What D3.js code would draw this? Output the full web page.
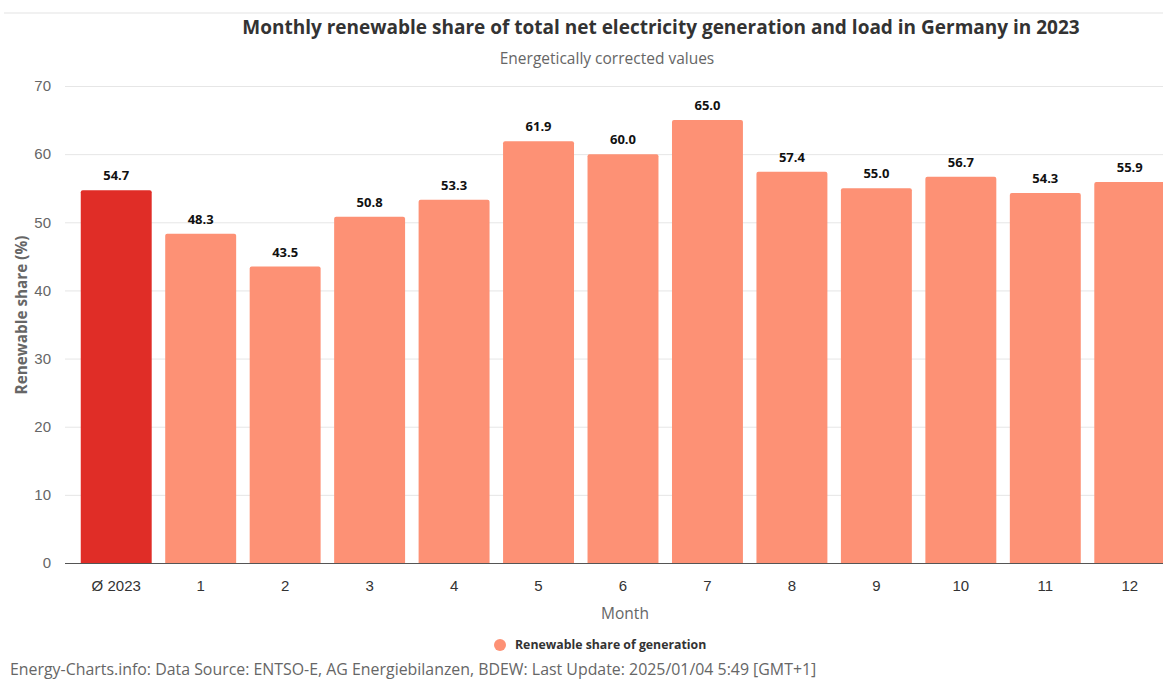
<!DOCTYPE html>
<html>
<head>
<meta charset="utf-8">
<script src="https://cdn.jsdelivr.net/npm/d3@7"></script>
<style>
  html, body { margin: 0; padding: 0; background: #fff; overflow: hidden; }
  svg { display: block; font-family: "Open Sans", "DejaVu Sans", sans-serif; }
</style>
</head>
<body>
<svg id="chart" width="1163" height="680"></svg>
<script>
// Monthly renewable share of net electricity generation, Germany 2023
const categories = ["Ø 2023", "1", "2", "3", "4", "5", "6", "7", "8", "9", "10", "11", "12"];
const shareValues = [54.7, 48.3, 43.5, 50.8, 53.3, 61.9, 60.0, 65.0, 57.4, 55.0, 56.7, 54.3, 55.9];
const yTicks = [0, 10, 20, 30, 40, 50, 60, 70];

const titleText = "Monthly renewable share of total net electricity generation and load in Germany in 2023";
const subtitleText = "Energetically corrected values";
const yAxisTitle = "Renewable share (%)";
const xAxisTitle = "Month";
const legendText = "Renewable share of generation";
const footerText = "Energy-Charts.info: Data Source: ENTSO-E, AG Energiebilanzen, BDEW: Last Update: 2025/01/04 5:49 [GMT+1]";

const svg = d3.select("#chart");

const plot = { left: 65, right: 1200, top: 86, bottom: 563 };

const x = d3.scaleBand()
  .domain(categories)
  .range([74, 1172])
  .paddingInner(0.16)
  .paddingOuter(0.08);

const y = d3.scaleLinear()
  .domain([0, 70])
  .range([plot.bottom, plot.top]);

// faint top border
svg.append("rect")
  .attr("x", 4).attr("y", 12).attr("width", 1159).attr("height", 2)
  .attr("fill", "#f1f1f1");

// gridlines
const yAxis = d3.axisLeft(y).tickValues(yTicks).tickSize(-(plot.right - plot.left)).tickPadding(14);
const gy = svg.append("g")
  .attr("transform", `translate(${plot.left},0)`)
  .call(yAxis);
gy.select(".domain").remove();
gy.selectAll(".tick line").attr("stroke", "#e6e6e6").attr("stroke-width", 1);
gy.selectAll(".tick text")
  .attr("fill", "#666")
  .attr("font-size", 15)
  .attr("dy", "0.32em");

// bars
svg.append("g").selectAll("path")
  .data(categories.map((c, i) => ({ c, v: shareValues[i], i })))
  .join("path")
  .attr("fill", d => d.i === 0 ? "#e02d27" : "#fd9175")
  .attr("d", d => {
    const x0 = x(d.c), w = x.bandwidth(), y0 = y(d.v), yb = y(0), r = 2;
    return `M${x0},${yb} V${y0 + r} Q${x0},${y0} ${x0 + r},${y0} H${x0 + w - r} Q${x0 + w},${y0} ${x0 + w},${y0 + r} V${yb} Z`;
  });

// value labels
svg.append("g").selectAll("text")
  .data(categories.map((c, i) => ({ c, v: shareValues[i] })))
  .join("text")
  .attr("x", d => x(d.c) + x.bandwidth() / 2)
  .attr("y", d => y(d.v) - 10)
  .attr("text-anchor", "middle")
  .attr("font-size", 13)
  .attr("font-weight", "bold")
  .attr("fill", "#111")
  .text(d => d3.format(".1f")(d.v));

// x axis
const xAxis = d3.axisBottom(x).tickSize(0).tickPadding(17);
const gx = svg.append("g")
  .attr("transform", `translate(0,${plot.bottom})`)
  .call(xAxis);
gx.select(".domain").remove();
gx.selectAll(".tick text").attr("fill", "#333").attr("font-size", 15);
svg.append("line")
  .attr("x1", plot.left).attr("x2", plot.right)
  .attr("y1", plot.bottom + 0.5).attr("y2", plot.bottom + 0.5)
  .attr("stroke", "#555").attr("stroke-width", 1);

// titles
svg.append("text")
  .attr("x", 661).attr("y", 34)
  .attr("text-anchor", "middle")
  .attr("font-size", 19).attr("font-weight", "bold").attr("fill", "#333")
  .text(titleText);
svg.append("text")
  .attr("x", 607).attr("y", 64)
  .attr("text-anchor", "middle")
  .attr("font-size", 15.5).attr("fill", "#666")
  .text(subtitleText);

svg.append("text")
  .attr("transform", `translate(27,315) rotate(-90)`)
  .attr("text-anchor", "middle")
  .attr("font-size", 15.3).attr("font-weight", "bold").attr("fill", "#666")
  .text(yAxisTitle);

svg.append("text")
  .attr("x", 625).attr("y", 619)
  .attr("text-anchor", "middle")
  .attr("font-size", 15.5).attr("fill", "#666")
  .text(xAxisTitle);

// legend
svg.append("circle")
  .attr("cx", 500).attr("cy", 645).attr("r", 6)
  .attr("fill", "#fd9175");
svg.append("text")
  .attr("x", 515).attr("y", 649)
  .attr("font-size", 12.3).attr("font-weight", "bold").attr("fill", "#333")
  .text(legendText);

// footer
svg.append("text")
  .attr("x", 10).attr("y", 675)
  .attr("font-size", 15.9).attr("fill", "#666")
  .text(footerText);
</script>
</body>
</html>
